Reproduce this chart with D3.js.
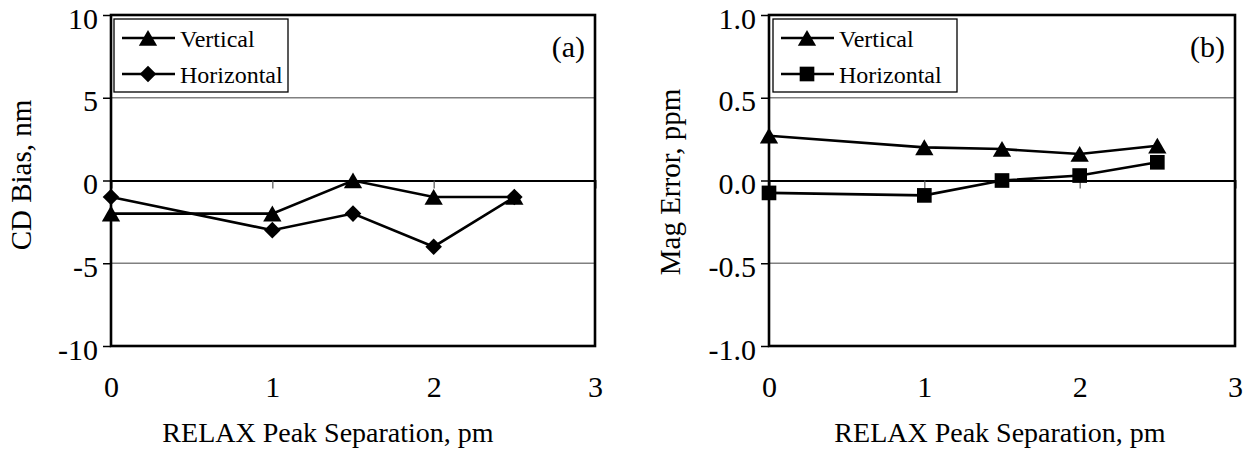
<!DOCTYPE html>
<html><head><meta charset="utf-8">
<script src="https://cdn.jsdelivr.net/npm/d3@7"></script>
<style>
body{margin:0;background:#fff;}
svg text{font-family:'Liberation Serif','Times New Roman',serif !important;fill:#000;}
</style></head>
<body><svg id="c" width="1249" height="452" font-family="'Liberation Serif', serif"></svg>
<script>
const xValues = [0, 1, 1.5, 2, 2.5];
const xTicks = [0, 1, 2, 3];
const aVertical = [-2, -2, 0, -1, -1];
const aHorizontal = [-1, -3, -2, -4, -1];
const aYTicks = [-10, -5, 0, 5, 10];
const bVertical = [0.27, 0.20, 0.19, 0.16, 0.21];
const bHorizontal = [-0.075, -0.09, 0.0, 0.03, 0.11];
const bYTicks = [-1.0, -0.5, 0.0, 0.5, 1.0];
const seriesNames = ["Vertical", "Horizontal"];

const svg = d3.select("#c");
const FONT = "'Liberation Serif', 'Times New Roman', serif";

function panel(o){
  const g = svg.append("g");
  const x = d3.scaleLinear().domain([0,3]).range([o.left,o.right]);
  const y = d3.scaleLinear().domain(o.yDomain).range([o.bottom,o.top]);
  // gridlines
  g.append("g").selectAll("line").data(o.yTicks.filter(t=>t!==0)).join("line")
    .attr("x1",o.left).attr("x2",o.right).attr("y1",d=>y(d)).attr("y2",d=>y(d))
    .attr("stroke","#808080").attr("stroke-width",1.5);
  // y axis
  const ya = g.append("g").attr("transform",`translate(${o.left},0)`)
    .call(d3.axisLeft(y).tickValues(o.yTicks).tickSize(8).tickPadding(5)
      .tickFormat(d=>o.yFmt(d).replace("\u2212","-")));
  ya.attr("font-family",null).attr("font-size",null);
  ya.select(".domain").remove();
  ya.selectAll("line").attr("stroke","#000").attr("stroke-width",1.5);
  ya.selectAll("text").attr("font-family",FONT).style("font-size","30px").attr("dy","0.44em");
  // x axis at zero (cross ticks)
  const xa = g.append("g").attr("transform",`translate(0,${y(0)})`)
    .call(d3.axisBottom(x).tickValues(xTicks).tickSize(8).tickFormat(""));
  xa.attr("font-family",null);
  xa.select(".domain").attr("stroke","#000").attr("stroke-width",1.8);
  xa.selectAll(".tick line").attr("stroke","#555").attr("stroke-width",1.2);
  // x tick labels at bottom
  const xl = g.append("g").attr("transform",`translate(0,${o.bottom})`)
    .call(d3.axisBottom(x).tickValues(xTicks).tickSize(0).tickPadding(30).tickFormat(d3.format("d")));
  xl.attr("font-family",null).attr("font-size",null);
  xl.select(".domain").remove();
  xl.selectAll("text").attr("font-family",FONT).style("font-size","30px");
  // border
  g.append("rect").attr("x",o.left).attr("y",o.top).attr("width",o.right-o.left).attr("height",o.bottom-o.top)
    .attr("fill","none").attr("stroke","#000").attr("stroke-width",2.6);
  // titles
  g.append("text").attr("x",o.xtx).attr("y",442).attr("text-anchor","middle").attr("font-family",FONT)
    .style("font-size","28px").text("RELAX Peak Separation, pm");
  g.append("text").attr("transform",`translate(${o.ytx},${o.yty}) rotate(-90)`).attr("text-anchor","middle")
    .attr("font-family",FONT).style("font-size","29px").text(o.ytitle);
  g.append("text").attr("x",o.right-10).attr("y",57).attr("text-anchor","end").attr("font-family",FONT)
    .style("font-size","30px").text(o.tag);
  // series
  const line = d3.line().x((d,i)=>x(xValues[i])).y(d=>y(d));
  const sym = [d3.symbolTriangle, o.sym2];
  const sizes = [145, o.sym2size];
  o.series.forEach((s,k)=>{
    g.append("path").datum(s).attr("d",line).attr("fill","none").attr("stroke","#000").attr("stroke-width",2.6);
    g.append("g").selectAll("path").data(s).join("path")
      .attr("transform",(d,i)=>`translate(${x(xValues[i])},${y(d)+(k===0?2.5:0)})`)
      .attr("d",d3.symbol().type(sym[k]).size(sizes[k])).attr("fill","#000");
  });
  // legend
  const lg = g.append("g");
  lg.append("rect").attr("x",o.lx).attr("y",19).attr("width",o.lw).attr("height",73)
    .attr("fill","#fff").attr("stroke","#000").attr("stroke-width",1.3);
  seriesNames.forEach((n,k)=>{
    const cy = 38 + k*36;
    lg.append("line").attr("x1",o.lx+8).attr("x2",o.lx+61).attr("y1",cy).attr("y2",cy)
      .attr("stroke","#000").attr("stroke-width",2.6);
    lg.append("path").attr("transform",`translate(${o.lx+34},${cy+(k===0?2.5:0)})`)
      .attr("d",d3.symbol().type(sym[k]).size(sizes[k])).attr("fill","#000");
    lg.append("text").attr("x",o.lx+66).attr("y",cy+9).attr("font-family",FONT).style("font-size","24px").text(n);
  });
}

panel({left:111,right:595,top:15,bottom:346,yDomain:[-10,10],yTicks:aYTicks,yFmt:d3.format("d"),
  series:[aVertical,aHorizontal],sym2:d3.symbolDiamond2,sym2size:175,
  ytitle:"CD Bias, nm",ytx:31,yty:175,xtx:328,tag:"(a)",lx:114,lw:174});
panel({left:769,right:1235,top:15,bottom:346,yDomain:[-1,1],yTicks:bYTicks,yFmt:d3.format(".1f"),
  series:[bVertical,bHorizontal],sym2:d3.symbolSquare,sym2size:215,
  ytitle:"Mag Error, ppm",ytx:680,yty:182,xtx:1000,tag:"(b)",lx:773,lw:184});
</script></body></html>
